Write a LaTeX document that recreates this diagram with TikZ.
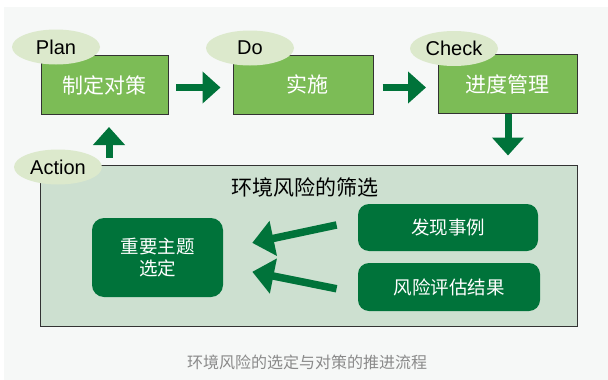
\documentclass[tikz,border=0pt]{standalone}
\usepackage{fontspec}
\setmainfont{Liberation Sans}
\newfontfamily\cjk{Noto Sans CJK SC}
\usetikzlibrary{shapes.geometric,arrows.meta,calc}

\definecolor{panelgray}{HTML}{F6F8F7}
\definecolor{leafgreen}{HTML}{7CBC56}
\definecolor{deepgreen}{HTML}{00733A}
\definecolor{palegreen}{HTML}{DCE9CC}
\definecolor{mistgreen}{HTML}{CDE0D0}
\definecolor{edgegray}{HTML}{333333}
\definecolor{notegray}{HTML}{8A8A8A}

\tikzset{every picture/.style={line width=0.75pt}}
\tikzset{
  stepbox/.style={draw=edgegray, line width=1pt, fill=leafgreen, inner sep=0pt,
    minimum width=140pt, minimum height=59pt, text=white,
    font={\cjk\fontsize{21}{25}\selectfont}},
  phasetag/.style={ellipse, fill=palegreen, inner sep=0pt, minimum width=88pt,
    minimum height=35pt, font={\fontsize{20}{24}\selectfont}},
  itembox/.style={fill=deepgreen, rounded corners=12pt, inner sep=0pt, text=white,
    align=center, font={\cjk\fontsize{18.5}{23}\selectfont}},
  fatarrow/.style={draw=deepgreen, line width=7pt, -{Triangle[length=18pt,width=31pt]}},
  slantarrow/.style={draw=deepgreen, line width=7.5pt, -{Triangle[length=21.5pt,width=34.5pt]},
    shorten <=21.5pt, shorten >=29.5pt}
}

\begin{document}
\begin{tikzpicture}[x=1pt,y=1pt,yscale=-1,xscale=1]
\useasboundingbox (0,0) rectangle (608,380);

%Shape: Rectangle [id:panel]
\fill [panelgray] (4,7) rectangle (608,380);

%Shape: Rectangle [id:screen]
\node [draw=edgegray, line width=1pt, fill=mistgreen, minimum width=537pt, minimum height=161.5pt, inner sep=0pt] (screen) at (308.5,245.75) {};
% Text Node
\node [font={\cjk\fontsize{21}{25}\selectfont}] (title) at (305,187) {环境风险的筛选};

%Shape: Rectangle [id:plan]
\node [stepbox, minimum width=127pt] (plan) at (104.5,85) {制定对策};
%Shape: Rectangle [id:do]
\node [stepbox] (do) at (303,84.5) {\hspace{8pt}实施};
%Shape: Rectangle [id:check]
\node [stepbox, minimum width=139pt] (check) at (507.5,84) {进度管理};

%Shape: Ellipse [id:tags]
\node [phasetag] (plantag) at (56,47) {Plan};
\node [phasetag] (dotag) at (250,48) {Do};
\node [phasetag] (checktag) at (454,48.5) {Check};
\node [phasetag] (actiontag) at (58,167) {Action};

%Shape: Rounded Rect [id:items]
\node [itembox, minimum width=131pt, minimum height=79pt] (theme) at (157.5,257.5) {重要主题\\[-1pt]选定};
\node [itembox, minimum width=180pt, minimum height=47pt, rounded corners=11pt] (finds) at (448,227.5) {发现事例};
\node [itembox, minimum width=182pt, minimum height=48pt, rounded corners=11pt] (risk) at (449,287) {风险评估结果};

%Straight Lines [id:cycle]
\draw [fatarrow, shorten <=7.5pt, shorten >=12pt] ($(plan.east)+(0,2.5)$) -- ($(do.west)+(0,3)$);
\draw [fatarrow, shorten <=9pt, shorten >=11.5pt] ($(do.east)+(0,3)$) -- ($(check.west)+(0,3.5)$);
\draw [fatarrow, shorten >=9pt] ($(check.south)+(0.5,0)$) -- ($(check.south |- screen.north)+(0.5,0)$);
\draw [fatarrow, shorten <=7pt, shorten >=12pt] ($(plan.south |- screen.north)+(4.5,0)$) -- ($(plan.south)+(4.5,0)$);

%Straight Lines [id:feeds]
\draw [slantarrow] ($(finds.west)+(0,-7)$) -- ($(theme.east)+(0,-8.5)$);
\draw [slantarrow] ($(risk.west)+(0,6)$) -- ($(theme.east)+(0,8.5)$);

% Text Node
\node [text=notegray, font={\cjk\fontsize{16}{20}\selectfont}] (note) at (307,362) {环境风险的选定与对策的推进流程};

\end{tikzpicture}
\end{document}
